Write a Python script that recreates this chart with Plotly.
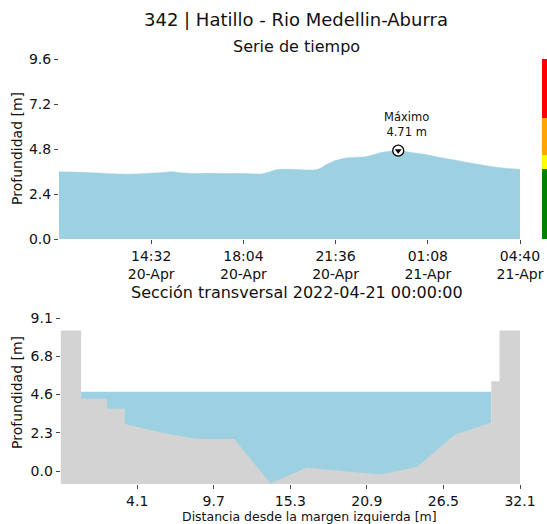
import plotly.graph_objects as go
import numpy as np
import pandas as pd

# ---------------- data ----------------
times = ["2022-04-20 11:00", "2022-04-20 11:30", "2022-04-20 12:00", "2022-04-20 12:30",
         "2022-04-20 13:00", "2022-04-20 13:30", "2022-04-20 14:00", "2022-04-20 14:30",
         "2022-04-20 15:00", "2022-04-20 15:20", "2022-04-20 15:40", "2022-04-20 16:00",
         "2022-04-20 16:30", "2022-04-20 17:00", "2022-04-20 17:30", "2022-04-20 18:00",
         "2022-04-20 18:45", "2022-04-20 19:00", "2022-04-20 19:20", "2022-04-20 20:00",
         "2022-04-20 20:45", "2022-04-20 21:00", "2022-04-20 21:15", "2022-04-20 21:30",
         "2022-04-20 22:00", "2022-04-20 22:45", "2022-04-20 23:15", "2022-04-20 23:30",
         "2022-04-20 23:45", "2022-04-21 00:00", "2022-04-21 00:30", "2022-04-21 01:00",
         "2022-04-21 01:30", "2022-04-21 02:00", "2022-04-21 02:30", "2022-04-21 03:00",
         "2022-04-21 03:30", "2022-04-21 04:00", "2022-04-21 04:20", "2022-04-21 04:40"]
depth = [3.59, 3.57, 3.55, 3.52,
         3.48, 3.46, 3.47, 3.51,
         3.55, 3.59, 3.53, 3.50,
         3.50, 3.50, 3.49, 3.49,
         3.47, 3.55, 3.70, 3.71,
         3.68, 3.76, 3.97, 4.14,
         4.32, 4.39, 4.58, 4.65,
         4.70, 4.71, 4.62, 4.52,
         4.38, 4.25, 4.12, 4.00,
         3.88, 3.79, 3.75, 3.72]

max_time = "2022-04-21 00:00"
max_depth = 4.71

t_start = "2022-04-20 11:00"
t_end = "2022-04-21 04:40"

# alert thresholds (right-side colour bar)
alert_bottoms = [0.0, 3.73, 4.48, 6.45]
alert_tops = [3.73, 4.48, 6.45, 9.6]
alert_colors = ["#008000", "#ffff00", "#ffa500", "#ff0000"]

top_yticks = [0.0, 2.4, 4.8, 7.2, 9.6]

# cross section
prof_x = [-1.5, 0.0, 0.0, 1.9, 1.9, 3.2, 3.2, 5.9, 8.5, 11.2, 13.85, 16.5,
          21.9, 24.6, 27.3, 30.0, 30.0, 30.6, 30.6, 32.1]
prof_y = [8.35, 8.35, 4.30, 4.30, 3.70, 3.70, 2.80, 2.28, 1.90, 1.90, -0.73, 0.20,
          -0.20, 0.25, 2.14, 2.88, 5.34, 5.34, 8.35, 8.35]
water_level = 4.71
water_x = [0.0, 30.0]
sec_ymin = -0.77
sec_ymax = 9.1
sec_xmin = -1.5
sec_xmax = 32.1

BLUE = "#9dd0e0"
GREY = "#d3d3d3"
FONT = "DejaVu Sans"
TXT = "#111111"

W, H = 547, 524

fig = go.Figure()

# ---------- top: time series ----------
fig.add_trace(go.Scatter(x=times, y=depth, mode="lines", fill="tozeroy",
                         line=dict(color=BLUE, width=0.5, shape="spline", smoothing=0.6),
                         fillcolor=BLUE, xaxis="x", yaxis="y", hoverinfo="skip"))
fig.add_trace(go.Scatter(x=[max_time], y=[max_depth], mode="markers",
                         marker=dict(symbol="circle", size=11, color="white",
                                     line=dict(color="black", width=1.3)),
                         xaxis="x", yaxis="y"))
fig.add_trace(go.Scatter(x=[max_time], y=[max_depth], mode="markers",
                         marker=dict(symbol="triangle-down", size=6, color="black"),
                         xaxis="x", yaxis="y"))

# ---------- bottom: cross section ----------
wx = [water_x[0], water_x[1], water_x[1], water_x[0], water_x[0]]
wy = [water_level, water_level, sec_ymin, sec_ymin, water_level]
fig.add_trace(go.Scatter(x=wx, y=wy, mode="lines", fill="toself", fillcolor=BLUE,
                         line=dict(width=0, color=BLUE), xaxis="x2", yaxis="y2",
                         hoverinfo="skip"))
gx = prof_x + [sec_xmax, sec_xmin, prof_x[0]]
gy = prof_y + [sec_ymin, sec_ymin, prof_y[0]]
fig.add_trace(go.Scatter(x=gx, y=gy, mode="lines", fill="toself", fillcolor=GREY,
                         line=dict(width=0, color=GREY), xaxis="x2", yaxis="y2",
                         hoverinfo="skip"))

# ---------- axes ----------
def px_x(p):
    return p / W

def px_y(p):
    return 1 - p / H

t0 = pd.Timestamp(t_start)
t1 = pd.Timestamp(t_end)
tick_times = [t0 + (t1 - t0) * k / 5 for k in range(1, 6)]
tick_text = [t.strftime("%H:%M") + "<br>" + t.strftime("%d-%b") for t in tick_times]

sec_ticks = list(np.linspace(sec_xmin, sec_xmax, 7))[1:]
sec_yticks = list(np.linspace(0, sec_ymax, 5))

common = dict(showgrid=False, zeroline=False, showline=False, ticks="outside",
              ticklen=4, tickwidth=1, tickcolor="#444", automargin=False,
              tickfont=dict(family=FONT, size=14, color=TXT))

fig.update_layout(
    width=W, height=H, autosize=False,
    margin=dict(l=0, r=0, t=0, b=0, pad=0, autoexpand=False),
    plot_bgcolor="white", paper_bgcolor="white",
    showlegend=False,
    xaxis=dict(domain=[px_x(59), px_x(520)], range=[t0, t1], type="date",
               tickvals=tick_times, ticktext=tick_text, anchor="y", **common),
    yaxis=dict(domain=[px_y(239), px_y(59)], range=[0, 9.6], tickvals=top_yticks,
               ticktext=[f"{v:.1f}" for v in top_yticks], anchor="x", **common),
    xaxis2=dict(domain=[px_x(60.6), px_x(520)], range=[sec_xmin, sec_xmax],
                tickvals=sec_ticks, ticktext=[f"{v:.1f}" for v in sec_ticks],
                anchor="y2", **common),
    yaxis2=dict(domain=[px_y(484), px_y(318)], range=[sec_ymin, sec_ymax],
                tickvals=sec_yticks, ticktext=["0.0", "2.3", "4.6", "6.8", "9.1"],
                anchor="x2", **common),
)

# alert bar
for b, t, c in zip(alert_bottoms, alert_tops, alert_colors):
    fig.add_shape(type="rect", xref="paper", yref="y", x0=px_x(542), x1=1.02,
                  y0=b, y1=t, fillcolor=c, line=dict(width=0), layer="above")

# annotations
ann = dict(showarrow=False, xanchor="center", yanchor="middle")
fig.add_annotation(x=max_time, y=max_depth, xref="x", yref="y", text="Máximo<br>4.71 m",
                   showarrow=False, xshift=8, yshift=10, yanchor="bottom", xanchor="center",
                   font=dict(family=FONT, size=11.5, color=TXT))

fig.add_annotation(x=px_x(296), y=px_y(20), xref="paper", yref="paper",
                   text="342 | Hatillo - Rio Medellin-Aburra",
                   font=dict(family=FONT, size=18, color=TXT), **ann)
fig.add_annotation(x=px_x(296), y=px_y(47), xref="paper", yref="paper",
                   text="Serie de tiempo",
                   font=dict(family=FONT, size=16, color=TXT), **ann)
fig.add_annotation(x=px_x(297), y=px_y(292), xref="paper", yref="paper",
                   text="Sección transversal 2022-04-21 00:00:00",
                   font=dict(family=FONT, size=16, color=TXT), **ann)
fig.add_annotation(x=px_x(17), y=px_y(149), xref="paper", yref="paper",
                   text="Profundidad [m]", textangle=-90,
                   font=dict(family=FONT, size=14, color=TXT), **ann)
fig.add_annotation(x=px_x(17), y=px_y(393), xref="paper", yref="paper",
                   text="Profundidad [m]", textangle=-90,
                   font=dict(family=FONT, size=14, color=TXT), **ann)
fig.add_annotation(x=px_x(309), y=px_y(516), xref="paper", yref="paper",
                   text="Distancia desde la margen izquierda [m]",
                   font=dict(family=FONT, size=12.5, color=TXT), **ann)

fig.write_html("out.html", config={"responsive": False, "displayModeBar": False},
               post_script="document.body.style.margin='0';document.body.style.overflow='hidden';")
